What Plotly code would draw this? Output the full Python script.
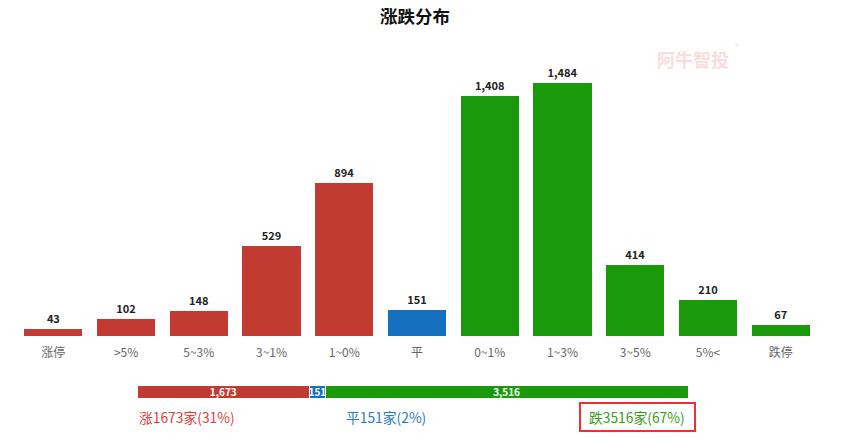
import plotly.graph_objects as go

categories = ["涨停", ">5%", "5~3%", "3~1%", "1~0%", "平", "0~1%", "1~3%", "3~5%", "5%<", "跌停"]
counts = [43, 102, 148, 529, 894, 151, 1408, 1484, 414, 210, 67]
groups = ["up"] * 5 + ["flat"] + ["down"] * 5

summary_names = ["涨", "平", "跌"]
summary_values = [1673, 151, 3516]
summary_pcts = [31, 2, 67]

RED = "#c23b32"
BLUE = "#1570bf"
GREEN = "#1a9a0a"
cmap = {"up": RED, "flat": BLUE, "down": GREEN}
scol = [RED, BLUE, GREEN]
tcol = ["#e0403c", "#2a78c4", "#3a9a1a"]

FONT = "Noto Sans CJK SC, Microsoft YaHei, sans-serif"
W, H = 848, 438

fig = go.Figure()

fig.add_trace(go.Bar(
    x=categories, y=counts,
    marker=dict(color=[cmap[g] for g in groups], line=dict(width=0)),
    text=[f"<b>{v:,}</b>" for v in counts], textposition="outside",
    textfont=dict(size=11, color="#222", family=FONT),
    cliponaxis=False, xaxis="x", yaxis="y", showlegend=False,
))

for name, val, c in zip(summary_names, summary_values, scol):
    fig.add_trace(go.Bar(
        x=[val], y=["s"], orientation="h", width=1,
        marker=dict(color=c, line=dict(color="white", width=1)),
        text=[f"<b>{val:,}</b>"], textposition="inside", insidetextanchor="middle",
        textfont=dict(size=10, color="white", family=FONT),
        xaxis="x2", yaxis="y2", showlegend=False,
    ))

total = sum(summary_values)
x0p, x1p = 137 / W, 688 / W

fig.update_layout(
    width=W, height=H,
    margin=dict(l=0, r=0, t=0, b=0),
    paper_bgcolor="white", plot_bgcolor="white",
    barmode="stack", bargap=0.2,
    font=dict(family=FONT),
    title=dict(text="<b>涨跌分布</b>", x=415 / W, xanchor="center", y=1 - 17 / H, yanchor="middle",
               font=dict(size=17.5, color="#111", family=FONT)),
    xaxis=dict(domain=[17 / W, 817 / W], showgrid=False, showline=False, ticks="",
               ticklabelstandoff=8,
               tickfont=dict(size=12, color="#666", family=FONT), fixedrange=True),
    yaxis=dict(domain=[(H - 336) / H, (H - 63) / H], range=[0, 1600], visible=False),
    xaxis2=dict(domain=[x0p, x1p], range=[0, total], visible=False, anchor="y2"),
    yaxis2=dict(domain=[(H - 398) / H, (H - 385) / H], range=[-0.5, 0.5], visible=False, anchor="x2"),
    uniformtext=dict(minsize=8, mode="show"),
)

labels = [f"{n}{v}家({p}%)" for n, v, p in zip(summary_names, summary_values, summary_pcts)]
fig.add_annotation(x=137 / W, y=1 - 417 / H, xref="paper", yref="paper", text=labels[0],
                   showarrow=False, xanchor="left", yanchor="middle",
                   font=dict(size=13.8, color=tcol[0], family=FONT))
fig.add_annotation(x=386 / W, y=1 - 417 / H, xref="paper", yref="paper", text=labels[1],
                   showarrow=False, xanchor="center", yanchor="middle",
                   font=dict(size=13.8, color=tcol[1], family=FONT))
fig.add_annotation(x=637 / W, y=1 - 417 / H, xref="paper", yref="paper", text=labels[2],
                   showarrow=False, xanchor="center", yanchor="middle",
                   font=dict(size=13.8, color=tcol[2], family=FONT))
fig.add_shape(type="rect", xref="paper", yref="paper",
              x0=580 / W, x1=695 / W, y0=1 - 431 / H, y1=1 - 403 / H,
              line=dict(color="#f03030", width=2))

# watermark
fig.add_annotation(x=693 / W, y=1 - 59 / H, xref="paper", yref="paper", text="<b>阿牛智投</b>",
                   showarrow=False, xanchor="center", yanchor="middle",
                   font=dict(size=18, color="#f9dcdc", family=FONT))
fig.add_annotation(x=737 / W, y=1 - 46 / H, xref="paper", yref="paper", text="®",
                   showarrow=False, xanchor="center", yanchor="middle",
                   font=dict(size=7, color="#f9dcdc", family=FONT))

fig.write_html("out.html")
